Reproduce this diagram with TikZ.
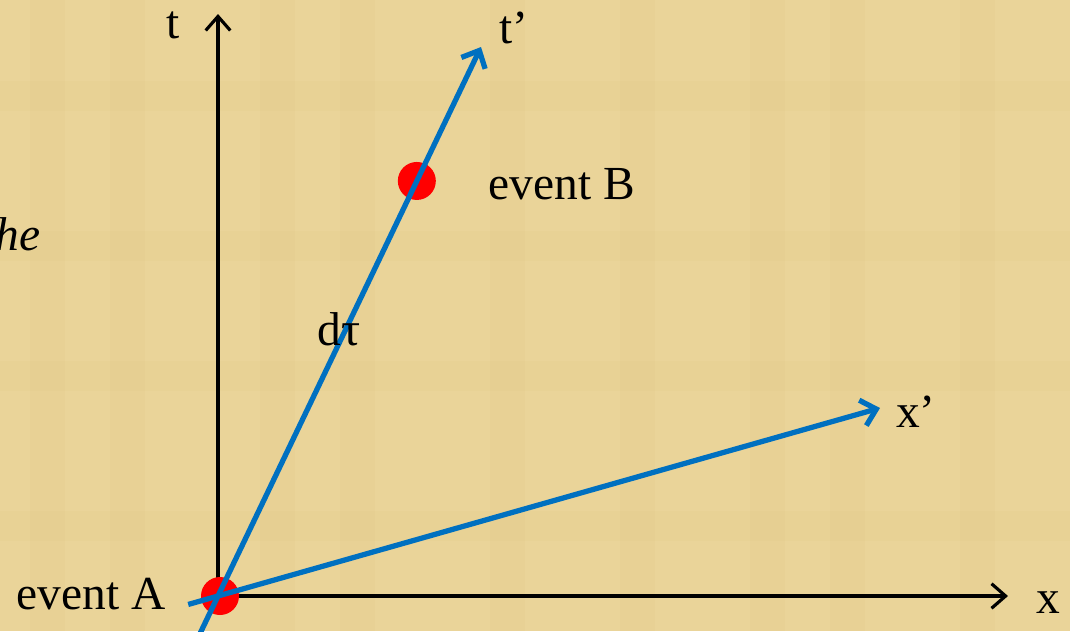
\documentclass[tikz,border=0pt]{standalone}
\usepackage{fontspec}
\setmainfont{Liberation Serif}
\usepackage{tikz}
\usetikzlibrary{arrows.meta,positioning,calc}
\definecolor{papyrus}{RGB}{234,212,153}
\definecolor{papyrusdark}{RGB}{222,196,128}
\definecolor{frameblue}{RGB}{0,112,192}
\tikzset{
  axis/.style={draw=black,line width=0.9pt,-{Straight Barb[length=4pt,width=7pt,line width=0.9pt]}},
  primeaxis/.style={draw=frameblue,line width=1.5pt,-{Straight Barb[length=4pt,width=7.5pt,line width=1.5pt]}},
  eventdot/.style={circle,fill=red,draw=none,minimum size=0.38cm,inner sep=0pt},
  lbl/.style={font=\fontsize{13.5}{16}\selectfont,inner sep=0pt,anchor=base},
}

\begin{document}
\begin{tikzpicture}
  % background
  \fill[papyrus] (0,0) rectangle (10.70,6.31);
  \foreach \xx in {0.3,1.1,2.6,3.4,4.9,6.2,7.5,8.3,9.6}
    \fill[papyrusdark,opacity=0.15] (\xx,0) rectangle ++(0.35,6.31);
  \foreach \yy in {0.9,2.4,3.7,5.2}
    \fill[papyrusdark,opacity=0.12] (0,\yy) rectangle ++(10.70,0.3);
  \useasboundingbox (0,0) rectangle (10.70,6.31);

  % coordinates
  \coordinate (O) at (2.18,0.35);
  \coordinate (t tip) at (2.18,6.17);
  \coordinate (x tip) at (10.08,0.35);
  \coordinate (tp tip) at (4.81,5.84);
  \coordinate (tp start) at ($(O)!-0.075!(tp tip)$);
  \coordinate (xp tip) at (8.80,2.23);
  \coordinate (xp start) at ($(O)!-0.045!(xp tip)$);

  % rest frame axes
  \draw[axis] (O) -- (t tip);
  \draw[axis] (O) -- (x tip);

  % events
  \node[eventdot] (A) at (2.20,0.35) {};
  \node[eventdot] (B) at ($(O)!0.756!(tp tip)$) {};

  % moving frame axes
  \draw[primeaxis] (tp start) -- (tp tip);
  \draw[primeaxis] (xp start) -- (xp tip);

  % labels
  \node[lbl] (t label) at (1.73,5.93) {t};
  \node[lbl] (tp label) at (5.14,5.88) {t’};
  \node[lbl] (x label) at (10.48,0.18) {x};
  \node[lbl] (xp label) at (9.16,2.04) {x’};
  \node[lbl] (B label) at (5.62,4.32) {event B};
  \node[lbl] (A label) at (0.91,0.22) {event A};
  \node[lbl] (dtau) at (3.39,2.86) {dτ};
  \node[lbl,anchor=base east] (side text) at (0.41,3.81) {\itshape he};
\end{tikzpicture}
\end{document}
